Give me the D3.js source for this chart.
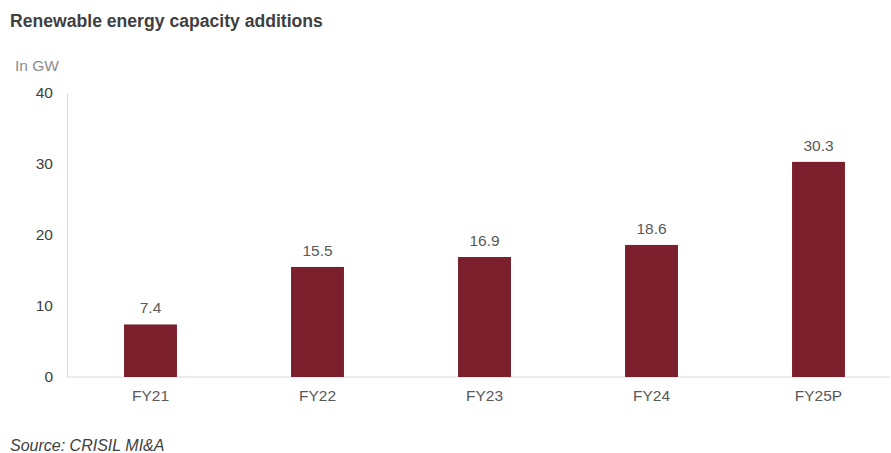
<!DOCTYPE html>
<html>
<head>
<meta charset="utf-8">
<script src="https://cdn.jsdelivr.net/npm/d3@7"></script>
<style>
body { margin: 0; background: #fff; }
svg { display: block; font-family: "Liberation Sans", Arial, sans-serif; }
</style>
</head>
<body>
<div id="chart"></div>
<script>
var categories = ["FY21", "FY22", "FY23", "FY24", "FY25P"];
var values = [7.4, 15.5, 16.9, 18.6, 30.3];
var yTicks = [0, 10, 20, 30, 40];

var width = 891, height = 453;
var margin = {top: 93, left: 67, bottom: 76, right: 0};

var svg = d3.select("#chart").append("svg")
    .attr("width", width).attr("height", height);

var xScale = d3.scaleBand()
    .domain(categories)
    .range([margin.left, margin.left + 5 * 167])
    .paddingInner(0.683).paddingOuter(0.3415);

var yScale = d3.scaleLinear()
    .domain([0, 40])
    .range([height - margin.bottom, margin.top]);

// title + unit
svg.append("text").attr("x", 10).attr("y", 27)
    .attr("font-size", 17.6).attr("font-weight", "bold").attr("fill", "#404040")
    .text("Renewable energy capacity additions");
svg.append("text").attr("x", 15).attr("y", 71)
    .attr("font-size", 15.5).attr("fill", "#8c8c8c")
    .text("In GW");

// y axis
var yAxis = d3.axisLeft(yScale).tickValues(yTicks).tickSize(0).tickPadding(14);
var yg = svg.append("g").attr("transform", "translate(" + margin.left + ",0)").call(yAxis);
yg.select(".domain").attr("stroke", "#d9d9d9");
yg.selectAll("text").attr("font-size", 15.5).attr("fill", "#404040")
    .attr("font-family", "Liberation Sans, Arial, sans-serif");

// baseline
svg.append("line")
    .attr("x1", margin.left).attr("x2", 890)
    .attr("y1", yScale(0)).attr("y2", yScale(0))
    .attr("stroke", "#d9d9d9");

// bars
svg.selectAll("rect.bar").data(values).enter().append("rect")
    .attr("class", "bar")
    .attr("x", function(d, i) { return xScale(categories[i]); })
    .attr("width", xScale.bandwidth())
    .attr("y", function(d) { return yScale(d); })
    .attr("height", function(d) { return yScale(0) - yScale(d); })
    .attr("fill", "#7a1f2b");

// value labels
svg.selectAll("text.val").data(values).enter().append("text")
    .attr("class", "val")
    .attr("x", function(d, i) { return xScale(categories[i]) + xScale.bandwidth() / 2; })
    .attr("y", function(d) { return yScale(d) - 11; })
    .attr("text-anchor", "middle").attr("font-size", 15.5).attr("fill", "#595959")
    .text(function(d) { return d.toFixed(1); });

// x labels
var xAxis = d3.axisBottom(xScale).tickSize(0).tickPadding(13);
var xg = svg.append("g").attr("transform", "translate(0," + yScale(0) + ")").call(xAxis);
xg.select(".domain").remove();
xg.selectAll("text").attr("font-size", 15.5).attr("fill", "#595959")
    .attr("font-family", "Liberation Sans, Arial, sans-serif");

// source
svg.append("text").attr("x", 10).attr("y", 451)
    .attr("font-size", 16).attr("font-style", "italic").attr("fill", "#404040")
    .text("Source: CRISIL MI&A");
</script>
</body>
</html>
